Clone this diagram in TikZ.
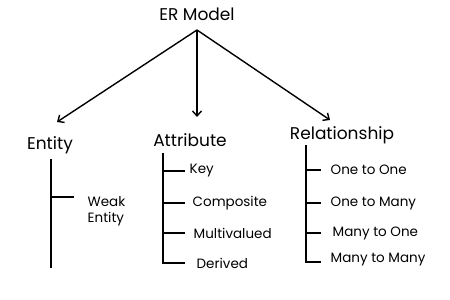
\documentclass[tikz,border=0pt]{standalone}
\usepackage{fontspec}
\setmainfont{Poppins}
\usetikzlibrary{arrows.meta}
\begin{document}
\begin{tikzpicture}[x=1pt, y=-1pt, >={Straight Barb[length=5pt, width=9pt]}, line width=1.4pt,
		head/.style={font=\fontsize{17}{19}\selectfont, inner sep=0pt},
		leaf/.style={font=\fontsize{13.5}{15.5}\selectfont, anchor=west, align=left, inner sep=0pt}]
		\useasboundingbox (0,0) rectangle (450,300);
		
		% Gốc
		\node[head] (er) at (197,14) {ER Model};
		\coordinate (top) at (197,30);
		
		% Ba nhánh chính
		\node[head] (ent) at (50,145) {Entity};
		\node[head] (att) at (190,140) {Attribute};
		\node[head] (rel) at (342,135) {Relationship};
		
		\coordinate (tipE) at (57,122);
		\coordinate (tipA) at (197,117);
		\coordinate (tipR) at (330,120);
		
		\draw[->] (top) -- (tipE);
		\draw[->] (top) -- (tipA);
		\draw[->] (top) -- (tipR);
		
		% Entity
		\coordinate (e0) at (51,159);
		\coordinate (e1) at (51,268);
		\coordinate (eb) at (51,197);
		\coordinate (eb1) at (74,197);
		\draw (e0) -- (e1);
		\draw (eb) -- (eb1);
		\node[leaf] (weak) at (87,211) {Weak\\Entity};
		
		% Attribute
		\coordinate (a0) at (163,153);
		\coordinate (a1) at (163,171);
		\coordinate (a2) at (163,203);
		\coordinate (a3) at (163,233);
		\coordinate (a4) at (163,263);
		\draw (a0) -- (a4) -- (185,263);
		\draw (a1) -- (185,171);
		\draw (a2) -- (185,203);
		\draw (a3) -- (185,233);
		\node[leaf] (key) at (189,171) {Key};
		\node[leaf] (comp) at (192,203) {Composite};
		\node[leaf] (multi) at (193,233) {Multivalued};
		\node[leaf] (der) at (196,263) {Derived};
		
		% Relationship
		\coordinate (r0) at (306,145);
		\coordinate (r1) at (306,170);
		\coordinate (r2) at (306,203);
		\coordinate (r3) at (306,233);
		\coordinate (r4) at (306,262);
		\draw (r0) -- (r4) -- (321,262);
		\draw (r1) -- (321,170);
		\draw (r2) -- (321,203);
		\draw (r3) -- (321,233);
		\node[leaf] (oo) at (330,170) {One to One};
		\node[leaf] (om) at (330,203) {One to Many};
		\node[leaf] (mo) at (332,233) {Many to One};
		\node[leaf] (mm) at (330,260) {Many to Many};
		\end{tikzpicture}
\end{document}
